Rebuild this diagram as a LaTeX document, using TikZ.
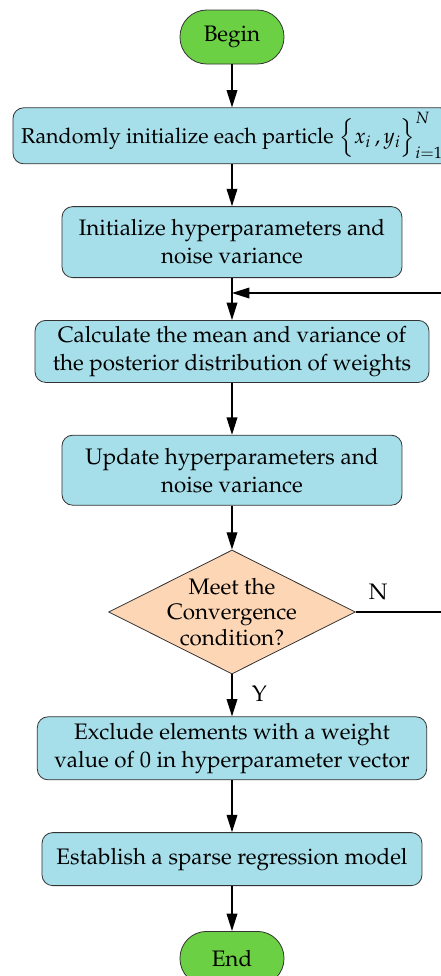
\documentclass[tikz,border=0pt]{standalone}
\usepackage[T1]{fontenc}
\usepackage{mathpazo}
\usetikzlibrary{positioning, arrows.meta, calc, shapes.geometric}
\definecolor{procblue}{RGB}{166,222,233}
\definecolor{termgreen}{RGB}{108,208,68}
\definecolor{decpeach}{RGB}{253,214,181}

\begin{document}
\begin{tikzpicture}[
    node distance=31.5pt,
    font=\fontsize{16.8}{21}\selectfont,
    procbox/.style={
        rectangle,
        draw=black!80,
        line width=0.6pt,
        rounded corners=8pt,
        fill=procblue,
        align=center,
        inner sep=2pt
    },
    termbox/.style={
        rectangle,
        draw=black!80,
        line width=0.6pt,
        rounded corners=20pt,
        fill=termgreen,
        minimum width=78pt,
        minimum height=40.5pt
    },
    decbox/.style={
        diamond,
        aspect=2,
        draw=black!80,
        line width=0.6pt,
        fill=decpeach,
        inner sep=-20pt,
        minimum width=185pt,
        minimum height=93pt,
        align=center,
        font=\fontsize{16.8}{19}\selectfont
    },
    flowline/.style={-{Triangle[length=13pt,width=8pt]}, line width=1pt}
]
    % page frame
    \useasboundingbox (-174pt,27.75pt) rectangle (156.75pt,-704.25pt);
    \clip (-174pt,27.75pt) rectangle (156.75pt,-704.25pt);

    % Start
    \node[termbox] (begin) at (0,0) {Begin};

    % Initialisation
    \node[procbox, below=32.25pt of begin, minimum width=328.5pt, minimum height=42pt,
          font=\fontsize{16.1}{21}\selectfont] (init)
        {Randomly initialize each particle $\Bigl\{x_i\,,y_i\Bigr\}_{i=1}^{N}$};
    \node[procbox, below=31.5pt of init, minimum width=255pt, minimum height=53.25pt] (hyper)
        {Initialize hyperparameters and\\noise variance};

    % Iteration
    \node[procbox, below=31.5pt of hyper, minimum width=295.5pt, minimum height=46.5pt] (post)
        {Calculate the mean and variance of\\the posterior distribution of weights};
    \node[procbox, below=39pt of post, minimum width=255pt, minimum height=52.5pt] (update)
        {Update hyperparameters and\\noise variance};
    \node[decbox, below=33pt of update] (conv) {Meet the\\Convergence\\condition?};

    % Model
    \node[procbox, below=31.5pt of conv, minimum width=292pt, minimum height=47.25pt] (exclude)
        {Exclude elements with a weight\\value of 0 in hyperparameter vector};
    \node[procbox, below=39pt of exclude, minimum width=285pt, minimum height=39.75pt] (model)
        {Establish a sparse regression model};

    % Stop
    \node[termbox, below=33.75pt of model] (end) {End};

    % Loop points
    \coordinate (merge) at ($(hyper.south)+(0,-11.25pt)$);
    \coordinate (loopR) at ($(conv.east)+(80pt,0)$);

    % Arrows
    \draw[flowline] (begin) -- (init);
    \draw[flowline] (init) -- (hyper);
    \draw[flowline] (hyper) -- (post);
    \draw[flowline] (post) -- (update);
    \draw[flowline] (update) -- (conv);
    \draw[flowline] (conv) -- node[pos=0.45, right, xshift=11pt] {Y} (exclude);
    \draw[flowline] (conv.east) -- node[pos=0.21, above, yshift=5pt] {N} (loopR) |- (merge);
    \draw[flowline] (exclude) -- (model);
    \draw[flowline] (model) -- (end);
\end{tikzpicture}
\end{document}
